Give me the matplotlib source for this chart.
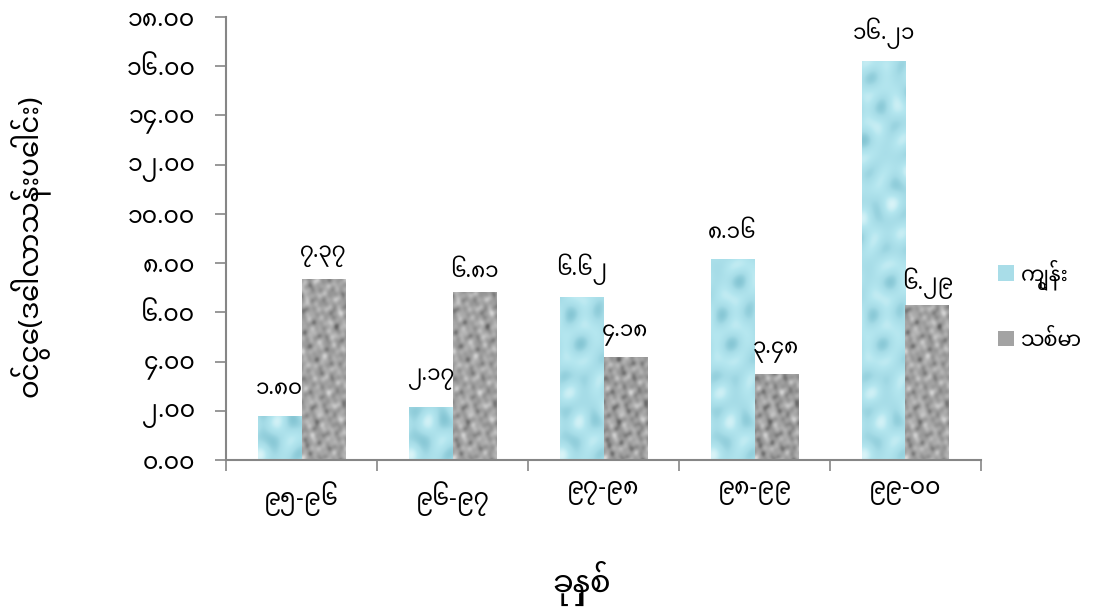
import matplotlib
matplotlib.use('Agg')
import matplotlib.pyplot as plt
import numpy as np
from matplotlib.colors import LinearSegmentedColormap

plt.rcParams['font.family'] = ['Noto Sans Myanmar', 'DejaVu Sans']

categories = ['၉၅-၉၆', '၉၆-၉၇', '၉၇-၉၈', '၉၈-၉၉', '၉၉-၀၀']
teak = [1.80, 2.17, 6.62, 8.16, 16.21]
hardwood = [7.37, 6.81, 4.18, 3.48, 6.29]
teak_labels = ['၁.၈၀', '၂.၁၇', '၆.၆၂', '၈.၁၆', '၁၆.၂၁']
hardwood_labels = ['၇.၃၇', '၆.၈၁', '၄.၁၈', '၃.၄၈', '၆.၂၉']
series_names = ['ကျွန်း', 'သစ်မာ']
yticks = [0, 2, 4, 6, 8, 10, 12, 14, 16, 18]
ytick_labels = ['၀.၀၀', '၂.၀၀', '၄.၀၀', '၆.၀၀', '၈.၀၀', '၁၀.၀၀', '၁၂.၀၀', '၁၄.၀၀', '၁၆.၀၀', '၁၈.၀၀']
ylabel = 'ဝင်ငွေ(ဒေါ်လာသန်းပေါင်း)'
xlabel = 'ခုနှစ်'

fig = plt.figure(figsize=(11.04, 6.13), dpi=100)
ax = fig.add_axes([226/1104, 1-460/613, (981-226)/1104, (460-17)/613])

x = np.arange(len(categories))
w = 0.29
teak_color = '#a9dde8'
hard_color = '#a3a3a3'
b1 = ax.bar(x - w/2, teak, w, color=teak_color, label=series_names[0], zorder=2)
b2 = ax.bar(x + w/2, hardwood, w, color=hard_color, label=series_names[1], zorder=2)

ax.set_xlim(-0.5, len(categories) - 0.5)
ax.set_ylim(0, 18)

# decorative fill textures (pattern only, not data)
teak_cmap = LinearSegmentedColormap.from_list('teak', ['#86c6d4', '#a6dce7', '#b4e6ef', '#d9f4f8'])
hard_cmap = LinearSegmentedColormap.from_list('hard', ['#666666', '#949494', '#b2b2b2', '#d6d6d6'])

def texture(nx, ny, kind):
    X, Y = np.meshgrid(np.arange(nx), np.arange(ny))
    if kind == 'hard':
        comps = [(0.31, 0.19, 0.3), (-0.23, 0.37, 1.1), (0.47, -0.29, 2.0),
                 (0.13, 0.53, 0.7), (-0.41, -0.11, 1.7), (0.61, 0.07, 0.4),
                 (0.71, -0.59, 2.6), (-0.19, 0.83, 0.9), (0.93, 0.41, 1.3)]
    else:
        comps = [(0.17, 0.11, 0.3), (-0.09, 0.21, 1.1), (0.25, -0.13, 2.0),
                 (0.07, 0.19, 0.7), (-0.23, -0.05, 1.7)]
    v = np.zeros_like(X, dtype=float)
    for k, (a, b, c) in enumerate(comps):
        amp = 1.0 if k < 6 else 0.5
        v += amp * np.sin(a * X + b * Y + c)
    v = (v - v.min()) / (v.max() - v.min())
    return v

px_per_unit_y = (460 - 17) / 18.0
px_per_unit_x = (981 - 226) / 5.0
for bars, kind, cmap in ((b1, 'teak', teak_cmap), (b2, 'hard', hard_cmap)):
    for i, rect in enumerate(bars):
        x0 = rect.get_x(); x1 = x0 + rect.get_width(); h = rect.get_height()
        nx = max(int(rect.get_width() * px_per_unit_x), 2)
        ny = max(int(h * px_per_unit_y), 2)
        tex = texture(nx, ny + 7 * i, kind)[:ny]
        im = ax.imshow(tex, extent=[x0, x1, 0, h], aspect='auto', cmap=cmap,
                       zorder=2.5, interpolation='bilinear', origin='lower')
        im.set_clip_path(rect)

ax.set_xlim(-0.5, len(categories) - 0.5)
ax.set_ylim(0, 18)
ax.set_aspect('auto')

for rect, lab in zip(b1, teak_labels):
    ax.annotate(lab, (rect.get_x() + rect.get_width()/2, rect.get_height()),
                xytext=(0, 20), textcoords='offset points', ha='center', va='center', fontsize=15.5)
for rect, lab in zip(b2, hardwood_labels):
    ax.annotate(lab, (rect.get_x() + rect.get_width()/2, rect.get_height()),
                xytext=(0, 16), textcoords='offset points', ha='center', va='center', fontsize=15.5)

ax.set_yticks(yticks)
ax.set_yticklabels(ytick_labels, fontsize=17)
ax.set_xticks(x)
ax.set_xticklabels(categories, fontsize=17)
ax.set_xticks(np.arange(len(categories) + 1) - 0.5, minor=True)
ax.tick_params(axis='x', which='major', length=0, pad=15)
ax.tick_params(axis='x', which='minor', length=8, color='#868686', width=1.2)
ax.tick_params(axis='y', length=8, color='#868686', width=1.2, pad=14)

for s in ['top', 'right']:
    ax.spines[s].set_visible(False)
for s in ['left', 'bottom']:
    ax.spines[s].set_color('#868686')
    ax.spines[s].set_linewidth(1.5)

ax.set_ylabel(ylabel, fontsize=20, va='center')
ax.yaxis.set_label_coords((30 - 226) / 755, (460 - 246) / 443)
ax.set_xlabel(xlabel, fontsize=22, va='center')
ax.xaxis.set_label_coords((582 - 226) / 755, -(583 - 460) / 443)

leg = ax.legend(loc='center left', bbox_to_anchor=((998 - 226) / 755, (460 - 305) / 443),
                frameon=False, fontsize=15, labelspacing=1.9, handlelength=0.75,
                handleheight=0.75, handletextpad=0.35, borderpad=0, borderaxespad=0)

fig.savefig('out.png', dpi=100)
